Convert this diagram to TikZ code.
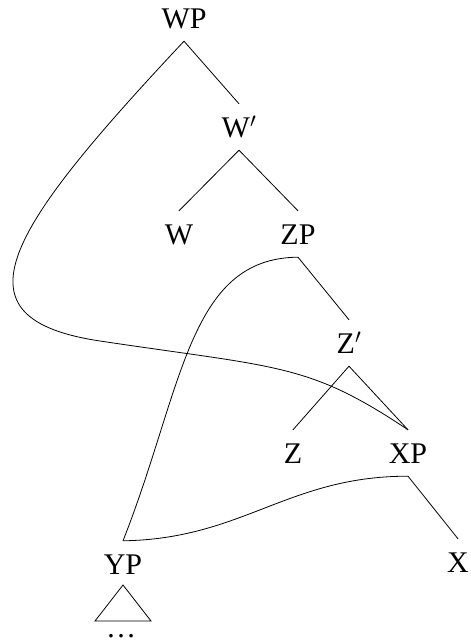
\documentclass[tikz,border=0pt]{standalone}
\usepackage{fontspec}
\setmainfont{Liberation Serif}
\begin{document}
\begin{tikzpicture}[x=1pt,y=-1pt,
  lab/.style={anchor=base,font=\fontsize{30}{36}\selectfont,text height=20pt,text depth=0pt,inner ysep=13pt,inner xsep=0pt},
  br/.style={line width=0.8pt},
  mv/.style={line width=0.8pt}]
\useasboundingbox (0,0) rectangle (471,640);
\node[lab] (WP) at (184,28) {WP};
\node[lab] (W1) at (239,137) {W$'$};
\node[lab] (W)  at (179,244) {W};
\node[lab] (ZP) at (298,244) {ZP};
\node[lab] (Z1) at (349,353) {Z$'$};
\node[lab] (Z)  at (293,463) {Z};
\node[lab] (XP) at (408,463) {XP};
\node[lab] (YP) at (123,574) {YP};
\node[lab] (X)  at (458,572) {X};
\node[font=\fontsize{30}{36}\selectfont,inner sep=0pt,text depth=0pt,anchor=base] (dots) at (121,637) {\dots};
\draw[br] (WP.south) -- (W1.north);
\draw[br] (W1.south) -- (W.north);
\draw[br] (W1.south) -- (ZP.north);
\draw[br] (ZP.south) -- (Z1.north);
\draw[br] (Z1.south) -- (Z.north);
\draw[br] (Z1.south) -- (XP.north);
\draw[br] (XP.south) -- (X.north);
\draw[br] (123,585) -- (95,621) -- (151,621) -- cycle;
\coordinate (bend) at (100,341);
\draw[mv] (WP.south) .. controls (4,233) and (-50,318.5) .. (bend)
  .. controls (280,368) and (308,363) .. (XP.north);
\draw[mv] (ZP.south) .. controls (188,258) and (183,389) .. (YP.north);
\draw[mv] (YP.north) .. controls (243,539) and (288,476) .. (XP.south);
\end{tikzpicture}
\end{document}
